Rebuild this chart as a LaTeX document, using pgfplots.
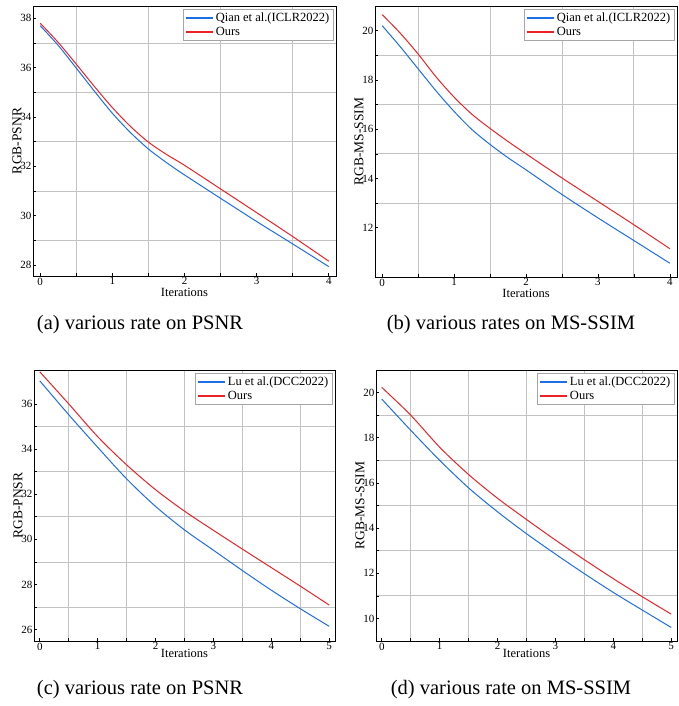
\documentclass[border=0pt]{standalone}
\usepackage{fontspec}
\setmainfont{Liberation Serif}
\usepackage{pgfplots}
\pgfplotsset{compat=1.18}
\definecolor{cblue}{RGB}{30,110,230}
\definecolor{cred}{RGB}{235,35,40}
\definecolor{cgrid}{RGB}{195,195,195}
\pgfplotsset{legend image code/.code={\draw[#1, line width=1.8pt] (0pt,0pt) -- (27pt,0pt);}}
\pgfplotsset{
  myaxis/.style={
    scale only axis,
    axis line style={black, line width=0.9pt},
    tick align=inside, tick pos=left,
    major tick length=3pt, minor tick length=3pt,
    every tick/.style={black, line width=0.6pt},
    minor x tick num=1, minor y tick num=1,
    grid=minor,
    minor grid style={cgrid, line width=0.8pt},
    /pgf/number format/assume math mode=true,
    tick label style={font=\fontsize{11}{11}\selectfont},
    xticklabel style={inner sep=1.5pt},
    yticklabel style={inner sep=1.5pt},
    every axis x label/.style={at={(axis description cs:0.5,0)}, anchor=north, yshift=-9pt, font=\fontsize{12.5}{13}\selectfont},
    every axis y label/.style={at={(axis description cs:-0.053,0.5)}, rotate=90, anchor=center, font=\fontsize{13.5}{14}\selectfont},
    legend style={at={(axis description cs:1,1)}, anchor=north east, xshift=-3pt, yshift=-3pt, draw=gray!70, fill=white, font=\fontsize{12.5}{13}\selectfont, inner sep=1.5pt},
    legend cell align=left,
    xlabel={Iterations},
  },
  bl/.style={color=cblue, line width=1pt, smooth},
  rd/.style={color=cred, line width=1pt, smooth},
}
\begin{document}
\begin{tikzpicture}
\path[use as bounding box] (0,0) rectangle (678pt,706pt);
% (a)
\begin{axis}[myaxis, at={(33pt,430pt)}, anchor=south west, width=303pt, height=270pt,
  xmin=-0.1, xmax=4.1, ymin=27.55, ymax=38.5,
  xtick={0,1,2,3,4}, ytick={28,30,32,34,36,38}, ylabel={RGB-PSNR}]
\addplot[bl] coordinates {(0,37.7)(0.25,36.9)(0.5,35.98)(0.75,35.05)(1,34.15)(1.25,33.37)(1.5,32.7)(1.75,32.15)(2,31.65)(2.5,30.7)(3,29.76)(3.5,28.85)(4,27.93)};
\addlegendentry{Qian et al.(ICLR2022)}
\addplot[rd] coordinates {(0,37.8)(0.25,37.02)(0.5,36.14)(0.75,35.24)(1,34.38)(1.25,33.62)(1.5,32.98)(1.75,32.48)(2,32.04)(2.5,31.08)(3,30.12)(3.5,29.15)(4,28.15)};
\addlegendentry{Ours}
\end{axis}
% (b)
\begin{axis}[myaxis, at={(375pt,429pt)}, anchor=south west, width=302pt, height=271pt,
  xmin=-0.1, xmax=4.1, ymin=10, ymax=21,
  xtick={0,1,2,3,4}, ytick={12,14,16,18,20}, ylabel={RGB-MS-SSIM}]
\addplot[bl] coordinates {(0,20.2)(0.25,19.35)(0.5,18.45)(0.75,17.55)(1,16.72)(1.25,15.98)(1.5,15.38)(1.75,14.84)(2,14.35)(2.5,13.35)(3,12.4)(3.5,11.48)(4,10.56)};
\addlegendentry{Qian et al.(ICLR2022)}
\addplot[rd] coordinates {(0,20.65)(0.25,19.9)(0.5,19.05)(0.75,18.12)(1,17.3)(1.25,16.6)(1.5,16.03)(1.75,15.5)(2,15.0)(2.5,14.02)(3,13.07)(3.5,12.12)(4,11.15)};
\addlegendentry{Ours}
\end{axis}
% (c)
\begin{axis}[myaxis, at={(34pt,65pt)}, anchor=south west, width=301pt, height=271pt,
  xmin=-0.1, xmax=5.1, ymin=25.5, ymax=37.5,
  xtick={0,1,2,3,4,5}, ytick={26,28,30,32,34,36}, ylabel={RGB-PNSR},
  every axis x label/.append style={yshift=4pt}]
\addplot[bl] coordinates {(0,37.02)(0.5,35.52)(1,34.08)(1.5,32.68)(2,31.46)(2.5,30.42)(3,29.52)(3.5,28.62)(4,27.75)(4.5,26.93)(5,26.15)};
\addlegendentry{Lu et al.(DCC2022)}
\addplot[rd] coordinates {(0,37.42)(0.5,36.0)(1,34.55)(1.5,33.3)(2,32.2)(2.5,31.25)(3,30.4)(3.5,29.57)(4,28.75)(4.5,27.93)(5,27.09)};
\addlegendentry{Ours}
\end{axis}
% (d)
\begin{axis}[myaxis, at={(376pt,65pt)}, anchor=south west, width=301pt, height=271pt,
  xmin=-0.1, xmax=5.1, ymin=9, ymax=21,
  xtick={0,1,2,3,4,5}, ytick={10,12,14,16,18,20}, ylabel={RGB-MS-SSIM},
  every axis x label/.append style={yshift=4pt}]
\addplot[bl] coordinates {(0,19.71)(0.5,18.33)(1,17.0)(1.5,15.78)(2,14.72)(2.5,13.75)(3,12.85)(3.5,11.98)(4,11.15)(4.5,10.37)(5,9.6)};
\addlegendentry{Lu et al.(DCC2022)}
\addplot[rd] coordinates {(0,20.23)(0.5,19.0)(1,17.58)(1.5,16.37)(2,15.32)(2.5,14.38)(3,13.47)(3.5,12.6)(4,11.76)(4.5,10.96)(5,10.19)};
\addlegendentry{Ours}
\end{axis}
\node[anchor=base, font=\fontsize{20.5}{24}\selectfont] at (140pt,376pt) {(a) various rate on PSNR};
\node[anchor=base, font=\fontsize{20.5}{24}\selectfont] at (511pt,376pt) {(b) various rates on MS-SSIM};
\node[anchor=base, font=\fontsize{20.5}{24}\selectfont] at (140pt,11pt) {(c) various rate on PSNR};
\node[anchor=base, font=\fontsize{20.5}{24}\selectfont] at (511pt,11pt) {(d) various rate on MS-SSIM};
\end{tikzpicture}
\end{document}
